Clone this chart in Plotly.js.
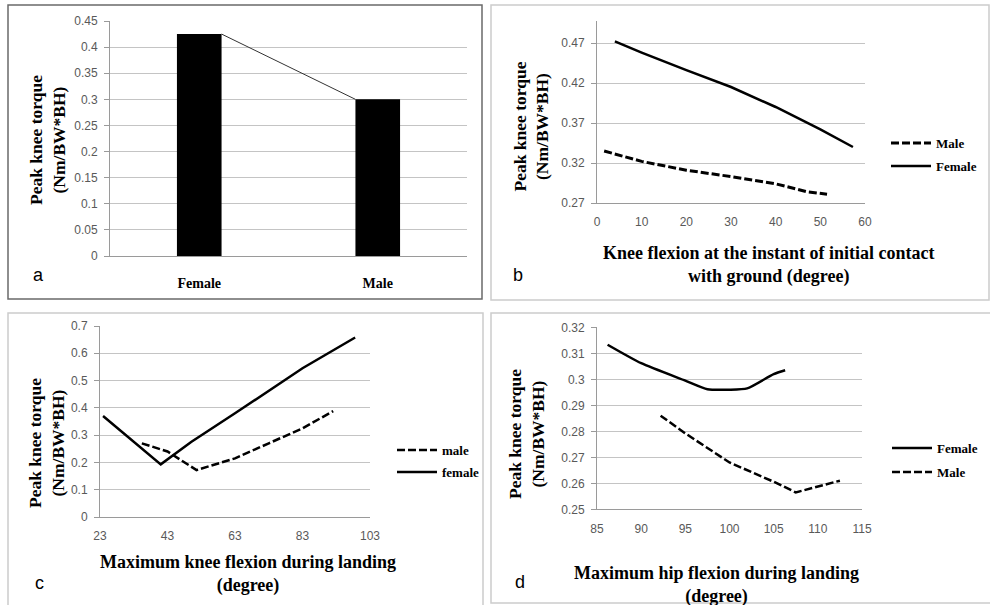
<!DOCTYPE html>
<html>
<head>
<meta charset="utf-8">
<script src="https://cdn.plot.ly/plotly-3.0.1.min.js"></script>
<style>html,body{margin:0;padding:0;background:#fff;}#chart{width:990px;height:605px;}</style>
</head>
<body>
<div id="chart"></div>
<script>
// ---------- DATA ----------
const barCategories = ['Female', 'Male'];
const barValues = [0.425, 0.30];

const bMaleX = [1.6, 10, 20, 30, 40, 47, 51.5];
const bMaleY = [0.335, 0.322, 0.311, 0.303, 0.294, 0.284, 0.281];
const bFemaleX = [4, 10, 20, 25, 30, 40, 50, 57.3];
const bFemaleY = [0.472, 0.458, 0.436, 0.425, 0.415, 0.390, 0.362, 0.340];

const cMaleX = [35.4, 43, 51.6, 63, 73, 83, 92.1];
const cMaleY = [0.27, 0.24, 0.172, 0.215, 0.27, 0.325, 0.388];
const cFemaleX = [23.9, 41, 50, 63, 83, 98.6];
const cFemaleY = [0.37, 0.193, 0.275, 0.38, 0.545, 0.658];

const dFemaleX = [86.2, 90, 95, 97.5, 100, 102, 105, 106.3];
const dFemaleY = [0.3133, 0.3062, 0.2995, 0.2962, 0.296, 0.2965, 0.302, 0.3035];
const dMaleX = [92.2, 95, 100, 103, 105, 107.5, 112.5];
const dMaleY = [0.286, 0.2792, 0.268, 0.2635, 0.2606, 0.2565, 0.261];

const yTitle = 'Peak knee torque<br>(Nm/BW*BH)';

// ---------- LAYOUT HELPERS ----------
const W = 990, H = 605;
const px = x => x / W;
const py = y => 1 - y / H;

const serif = 'Liberation Serif, Times New Roman, serif';
const sans = 'Liberation Sans, Arial, sans-serif';
const tickFont = {family: sans, size: 12, color: '#595959'};
const gridColor = '#c4c4c4';
const axisColor = '#9a9a9a';
const barWidth = 0.25;
const dashStyle = '8px,3px';

function yAxis(dom, range, dtick, tick0, anchor) {
  return {domain: dom, range: range, dtick: dtick, tick0: tick0, tickmode: 'linear', anchor: anchor,
    showgrid: true, gridcolor: gridColor, gridwidth: 1, zeroline: false,
    showline: true, linecolor: axisColor, linewidth: 1,
    ticks: 'outside', ticklen: 5, tickcolor: axisColor, ticklabelstandoff: 4,
    tickfont: tickFont, fixedrange: true};
}
function xAxis(dom, range, anchor, extra) {
  return Object.assign({domain: dom, range: range, anchor: anchor,
    showgrid: false, zeroline: false, showline: true, linecolor: axisColor, linewidth: 1,
    ticks: '', tickfont: tickFont, ticklabelstandoff: 8, fixedrange: true}, extra || {});
}

// ---------- TRACES ----------
const traces = [
  {type: 'bar', x: [0, 1], y: barValues, width: barWidth, marker: {color: '#000'},
   xaxis: 'x', yaxis: 'y', showlegend: false, hoverinfo: 'skip'},
  {type: 'scatter', mode: 'lines', x: [0 + barWidth / 2, 1 - barWidth / 2], y: barValues,
   line: {color: '#333', width: 1}, xaxis: 'x', yaxis: 'y', showlegend: false},

  {type: 'scatter', mode: 'lines', name: 'Male', x: bMaleX, y: bMaleY,
   line: {color: '#000', width: 3, dash: dashStyle}, xaxis: 'x2', yaxis: 'y2', legend: 'legend2'},
  {type: 'scatter', mode: 'lines', name: 'Female', x: bFemaleX, y: bFemaleY,
   line: {color: '#000', width: 2.5}, xaxis: 'x2', yaxis: 'y2', legend: 'legend3'},

  {type: 'scatter', mode: 'lines', name: 'male', x: cMaleX, y: cMaleY,
   line: {color: '#000', width: 2.5, dash: dashStyle}, xaxis: 'x3', yaxis: 'y3', legend: 'legend4'},
  {type: 'scatter', mode: 'lines', name: 'female', x: cFemaleX, y: cFemaleY,
   line: {color: '#000', width: 2.5}, xaxis: 'x3', yaxis: 'y3', legend: 'legend5'},

  {type: 'scatter', mode: 'lines', name: 'Female', x: dFemaleX, y: dFemaleY,
   line: {color: '#000', width: 2.5, shape: 'spline', smoothing: 0.6}, xaxis: 'x4', yaxis: 'y4', legend: 'legend6'},
  {type: 'scatter', mode: 'lines', name: 'Male', x: dMaleX, y: dMaleY,
   line: {color: '#000', width: 2.5, dash: dashStyle}, xaxis: 'x4', yaxis: 'y4', legend: 'legend7'}
];

function leg(x, y) {
  return {x: px(x), y: py(y), xanchor: 'left', yanchor: 'middle', bgcolor: 'rgba(0,0,0,0)',
    borderwidth: 0, itemwidth: 40,
    font: {family: serif, size: 13, color: '#000', weight: 'bold'}};
}

function ann(text, x, y, opts) {
  return Object.assign({text: text, x: px(x), y: py(y), xref: 'paper', yref: 'paper',
    showarrow: false, xanchor: 'center', yanchor: 'middle',
    font: {family: serif, size: 18, color: '#000', weight: 'bold'}}, opts || {});
}
const yTitleFont = {family: serif, size: 17.5, color: '#000', weight: 'bold'};
const letterFont = {family: sans, size: 18, color: '#000'};

function box(x0, y0, x1, y1, color) {
  return {type: 'rect', xref: 'paper', yref: 'paper', x0: px(x0), x1: px(x1), y0: py(y1), y1: py(y0),
    line: {color: color, width: 1.5}, fillcolor: 'rgba(0,0,0,0)'};
}

const layout = {
  width: W, height: H, margin: {l: 0, r: 0, t: 0, b: 0},
  paper_bgcolor: '#fff', plot_bgcolor: '#fff',
  xaxis: xAxis([px(110), px(467)], [-0.5, 1.5], 'y',
    {tickmode: 'array', tickvals: [0, 1], ticktext: barCategories,
     tickfont: {family: serif, size: 14, color: '#000', weight: 'bold'}, ticklabelstandoff: 14}),
  yaxis: yAxis([py(256), py(21)], [0, 0.45], 0.05, 0, 'x'),
  xaxis2: xAxis([px(597), px(865)], [0, 60], 'y2', {tickmode: 'linear', dtick: 10, tick0: 0}),
  yaxis2: yAxis([py(203), py(21)], [0.27, 0.4975], 0.05, 0.27, 'x2'),
  xaxis3: xAxis([px(100), px(370)], [23, 103], 'y3', {tickmode: 'linear', dtick: 20, tick0: 23}),
  yaxis3: yAxis([py(517), py(326)], [0, 0.7], 0.1, 0, 'x3'),
  xaxis4: xAxis([px(597), px(862)], [85, 115], 'y4', {tickmode: 'linear', dtick: 5, tick0: 85}),
  yaxis4: yAxis([py(509.3), py(327.3)], [0.25, 0.32], 0.01, 0.25, 'x4'),
  legend2: leg(886, 143),
  legend3: leg(886, 166),
  legend4: leg(392, 450),
  legend5: leg(392, 472),
  legend6: leg(887, 448),
  legend7: leg(887, 472),
  shapes: [
    box(8, 5, 482, 299, '#6a6a6a'),
    box(491, 5, 989, 300, '#cccccc'),
    box(8, 313, 483, 610, '#cccccc'),
    box(491, 313, 995, 603, '#cccccc')
  ],
  annotations: [
    ann(yTitle, 47, 140, {textangle: -90, font: yTitleFont}),
    ann(yTitle, 530.5, 127, {textangle: -90, font: yTitleFont}),
    ann(yTitle, 46, 443, {textangle: -90, font: yTitleFont}),
    ann(yTitle, 526, 434, {textangle: -90, font: yTitleFont}),
    ann('Knee flexion at the instant of initial contact<br>with ground (degree)', 768, 264.5),
    ann('Maximum knee flexion during landing<br>(degree)', 248, 574),
    ann('Maximum hip flexion during landing<br>(degree)', 716, 585),
    ann('a', 38, 275, {font: letterFont}),
    ann('b', 518, 275, {font: letterFont}),
    ann('c', 39, 583, {font: letterFont}),
    ann('d', 520, 582, {font: letterFont})
  ]
};

Plotly.newPlot('chart', traces, layout, {staticPlot: true, displayModeBar: false});
</script>
</body>
</html>
